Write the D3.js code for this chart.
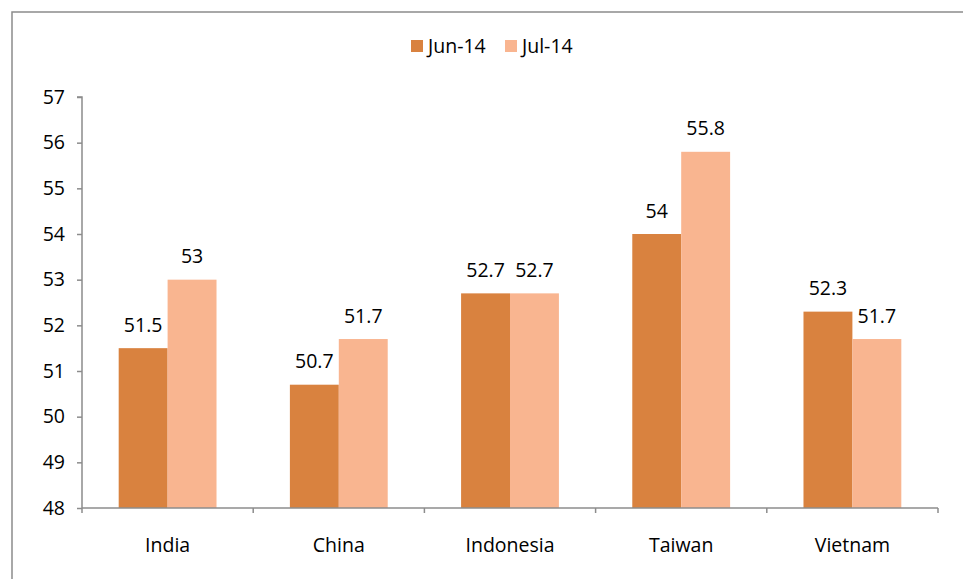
<!DOCTYPE html>
<html>
<head>
<meta charset="utf-8">
<script src="https://cdn.jsdelivr.net/npm/d3@7"></script>
<style>
  html, body { margin: 0; padding: 0; background: #fff; }
  svg { display: block; }
  text { font-family: "Open Sans", "Noto Sans", sans-serif; fill: #000; }
</style>
</head>
<body>
<svg id="chart" width="963" height="579"></svg>
<script>
// PMI readings by country
const categories = ["India", "China", "Indonesia", "Taiwan", "Vietnam"];
const seriesNames = ["Jun-14", "Jul-14"];
const jun14 = [51.5, 50.7, 52.7, 54, 52.3];
const jul14 = [53, 51.7, 52.7, 55.8, 51.7];
const yTicks = [48, 49, 50, 51, 52, 53, 54, 55, 56, 57];
const colors = ["#D9823F", "#F9B590"];

const FS = 19.5;
const svg = d3.select("#chart");
const W = 963, H = 579;

// outer frame
svg.append("rect")
  .attr("x", 12).attr("y", 12)
  .attr("width", W).attr("height", H)
  .attr("fill", "none").attr("stroke", "#8c8c8c").attr("stroke-width", 1.5);

const plot = { left: 82, right: 938, top: 97, bottom: 508 };

const x = d3.scaleBand().domain(categories).range([plot.left, plot.right]).padding(0);
const y = d3.scaleLinear().domain([48, 57]).range([plot.bottom, plot.top]);
const inner = d3.scaleBand().domain(seriesNames).range([0, x.bandwidth()]).paddingOuter(0.75).paddingInner(0);

const rows = categories.map((c, i) => ({ cat: c, values: [jun14[i], jul14[i]] }));

// bars
const groups = svg.append("g").selectAll("g").data(rows).join("g")
  .attr("transform", d => `translate(${x(d.cat)},0)`);

groups.selectAll("rect").data(d => d.values.map((v, k) => ({ v, k })))
  .join("rect")
  .attr("x", d => inner(seriesNames[d.k]))
  .attr("width", inner.bandwidth())
  .attr("y", d => y(d.v))
  .attr("height", d => y(48) - y(d.v))
  .attr("fill", d => colors[d.k]);

groups.selectAll("text.val").data(d => d.values.map((v, k) => ({ v, k })))
  .join("text")
  .attr("class", "val")
  .attr("x", d => inner(seriesNames[d.k]) + inner.bandwidth() / 2)
  .attr("y", d => y(d.v) - 16.5)
  .attr("text-anchor", "middle")
  .attr("font-size", FS)
  .text(d => d.v);

// y axis
const yAxis = svg.append("g")
  .attr("transform", `translate(${plot.left},0)`)
  .call(d3.axisLeft(y).tickValues(yTicks).tickSize(5).tickPadding(12).tickFormat(d3.format("d")));
yAxis.selectAll("path, line").attr("stroke", "#8c8c8c").attr("stroke-width", 1.5);
yAxis.select(".domain").attr("d", `M-5,${plot.top}H0V${plot.bottom}`);
yAxis.selectAll("text").attr("font-size", FS).style("font-family", '"Open Sans", sans-serif').attr("fill", "#000");

// x axis with ticks on category boundaries
const xAxis = svg.append("g").attr("transform", `translate(0,${plot.bottom})`);
xAxis.append("line")
  .attr("x1", plot.left).attr("x2", plot.right)
  .attr("stroke", "#8c8c8c").attr("stroke-width", 1.5);
const bounds = categories.map(c => x(c)).concat([plot.right]);
xAxis.selectAll("line.tick").data(bounds).join("line")
  .attr("class", "tick")
  .attr("x1", d => d).attr("x2", d => d)
  .attr("y1", 0).attr("y2", 5)
  .attr("stroke", "#8c8c8c").attr("stroke-width", 1.5);
xAxis.selectAll("text").data(categories).join("text")
  .attr("x", d => x(d) + x.bandwidth() / 2)
  .attr("y", 44)
  .attr("text-anchor", "middle")
  .attr("font-size", FS)
  .text(d => d);

// legend
const legendX = [411, 505];
const legend = svg.append("g").selectAll("g").data(seriesNames).join("g")
  .attr("transform", (d, i) => `translate(${legendX[i]},40)`);
legend.append("rect").attr("width", 12).attr("height", 12).attr("fill", (d, i) => colors[i]);
legend.append("text").attr("x", 17).attr("y", 13).attr("font-size", FS).text(d => d);
</script>
</body>
</html>
